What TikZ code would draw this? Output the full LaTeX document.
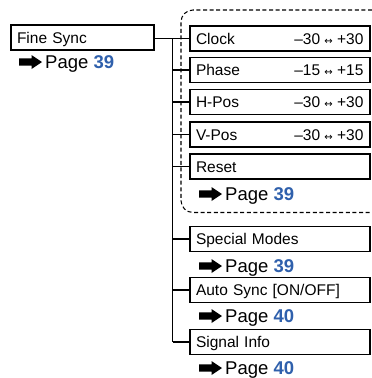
\documentclass[tikz,border=0pt]{standalone}
\usepackage{fontspec}
\setmainfont{Liberation Sans}
\newfontfamily\symfont{DejaVu Sans}
\definecolor{pageblue}{RGB}{47,96,172}
\begin{document}
\begin{tikzpicture}[x=1pt,y=-1pt,
  menubox/.style={draw, line width=1.25pt, minimum height=25pt, inner xsep=6pt, inner ysep=0pt,
    text height=11pt, text depth=0pt, align=left, font=\fontsize{15.5}{16}\selectfont},
  subbox/.style={menubox, text width=168pt},
  valtext/.style={anchor=east, inner sep=0pt, text height=11pt, text depth=0pt, font=\fontsize{15.5}{16}\selectfont},
  conn/.style={line width=1.7pt},
  pagetext/.style={anchor=base west, inner sep=0pt, font=\fontsize{18.5}{19}\selectfont},
  pagearrow/.pic={\fill (0,-3.6) -- (12.5,-3.6) -- (12.5,-7) -- (23,0) -- (12.5,7) -- (12.5,3.6) -- (0,3.6) -- cycle;}
]
\useasboundingbox (0,0) rectangle (372,378);
\fill[white] (0,0) rectangle (372,378);

% dashed group
\draw[line width=1.05pt, dash pattern=on 4pt off 2.6pt, rounded corners=12pt]
  (372,10) -- (181,10) -- (181,212.5) -- (372,212.5);

% main box
\node[menubox, text width=131pt] (fine) at (82.5,37.5) {Fine Sync};
\pic at (19,62) {pagearrow};
\node[pagetext] (pfine) at (45,68.6) {Page \textbf{\color{pageblue}39}};

% sub boxes
\node[subbox] (clock) at (280,38.5) {Clock};
\node[subbox] (phase) at (280,70) {Phase};
\node[subbox] (hpos) at (280,102) {H-Pos};
\node[subbox] (vpos) at (280,134.5) {V-Pos};
\node[subbox] (reset) at (280,166.5) {Reset};
\node[subbox] (special) at (280,239) {Special Modes};
\node[subbox] (auto) at (280,290) {Auto Sync [ON/OFF]};
\node[subbox] (signal) at (280,342) {Signal Info};

% values
\node[valtext] (vclock) at ([xshift=-7pt]clock.east) {–30 {\symfont\fontsize{10}{10}\selectfont ↔} +30};
\node[valtext] (vphase) at ([xshift=-7pt]phase.east) {–15 {\symfont\fontsize{10}{10}\selectfont ↔} +15};
\node[valtext] (vhpos) at ([xshift=-7pt]hpos.east) {–30 {\symfont\fontsize{10}{10}\selectfont ↔} +30};
\node[valtext] (vvpos) at ([xshift=-7pt]vpos.east) {–30 {\symfont\fontsize{10}{10}\selectfont ↔} +30};

% page refs
\pic at (199,194) {pagearrow};
\node[pagetext] (preset) at (225,200.6) {Page \textbf{\color{pageblue}39}};
\pic at (199,266) {pagearrow};
\node[pagetext] (pspecial) at (225,272.6) {Page \textbf{\color{pageblue}39}};
\pic at (199,316) {pagearrow};
\node[pagetext] (pauto) at (225,322.6) {Page \textbf{\color{pageblue}40}};
\pic at (199,368) {pagearrow};
\node[pagetext] (psignal) at (225,374.6) {Page \textbf{\color{pageblue}40}};

% connectors
\coordinate (trunktop) at (172.5,38.5);
\coordinate (trunkbot) at (172.5,342);
\draw[conn] (fine.east |- clock.west) -- (clock.west);
\draw[conn] (trunktop) -- (trunkbot);
\foreach \b in {phase,hpos,vpos,reset,special,auto,signal}
  \draw[conn] (trunktop |- \b.west) -- (\b.west);
\end{tikzpicture}
\end{document}
